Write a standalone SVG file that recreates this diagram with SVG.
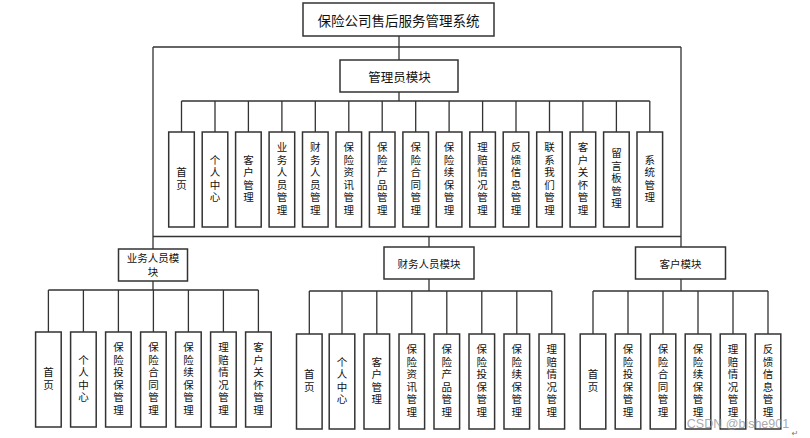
<svg xmlns="http://www.w3.org/2000/svg" width="810" height="438" viewBox="0 0 810 438">
<style>
.box{fill:#fff;stroke:#333;stroke-width:1.5}
.ln{fill:none;stroke:#333;stroke-width:1.3}
.t{font-family:"Noto Sans CJK SC","Noto Sans CJK JP",sans-serif;fill:#111;text-anchor:middle;dominant-baseline:central}
.v{font-family:"Noto Sans CJK SC","Noto Sans CJK JP",sans-serif;fill:#111;text-anchor:middle;font-size:10.5px;writing-mode:vertical-rl;letter-spacing:2px}
.m{font-size:10.5px}
.wm{font-family:"Liberation Sans",Arial,sans-serif;font-size:12.5px;fill:#9a9a9a;fill-opacity:0.85}
</style>
<rect width="810" height="438" fill="#fff"/>
<g id="connectors" class="ln">
<path d="M399 36V47M153 47H681M399 47V60M153 47V249M681 47V247M153 236.5H681M429 236.5V247"/>
<path d="M399 92V101M181.5 101H649.8M181.5 101V132M215 101V132M248.4 101V132M281.9 101V132M315.3 101V132M348.8 101V132M382.2 101V132M415.7 101V132M449.1 101V132M482.6 101V132M516 101V132M549.5 101V132M582.9 101V132M616.4 101V132M649.8 101V132"/>
<path d="M153 281V290M48.4 290H258.4M48.4 290V332M83.4 290V332M118.4 290V332M153.4 290V332M188.4 290V332M223.4 290V332M258.4 290V332"/>
<path d="M429 279V291M309.3 291H551.8M309.3 291V334M342 291V334M376.8 291V334M411.8 291V334M446.8 291V334M481.8 291V334M516.8 291V334M551.8 291V334"/>
<path d="M681 279V291M593 291H768M593 291V334M628 291V334M663 291V334M698 291V334M733 291V334M768 291V334"/>
</g>
<g id="root"><rect class="box" x="303" y="3" width="191" height="33"/><text class="t" x="398.5" y="20" font-size="13.5">保险公司售后服务管理系统</text></g>
<g id="admin"><rect class="box" x="340" y="60" width="118" height="32"/><text class="t" x="399.5" y="76" font-size="12.5">管理员模块</text></g>
<g id="a0"><rect class="box" x="168.7" y="132" width="25.6" height="95"/><text class="v" x="181.5" y="179.5">首页</text></g>
<g id="a1"><rect class="box" x="202.2" y="132" width="25.6" height="95"/><text class="v" x="215" y="179.5">个人中心</text></g>
<g id="a2"><rect class="box" x="235.6" y="132" width="25.6" height="95"/><text class="v" x="248.4" y="179.5">客户管理</text></g>
<g id="a3"><rect class="box" x="269.1" y="132" width="25.6" height="95"/><text class="v" x="281.9" y="179.5">业务人员管理</text></g>
<g id="a4"><rect class="box" x="302.5" y="132" width="25.6" height="95"/><text class="v" x="315.3" y="179.5">财务人员管理</text></g>
<g id="a5"><rect class="box" x="336" y="132" width="25.6" height="95"/><text class="v" x="348.8" y="179.5">保险资讯管理</text></g>
<g id="a6"><rect class="box" x="369.4" y="132" width="25.6" height="95"/><text class="v" x="382.2" y="179.5">保险产品管理</text></g>
<g id="a7"><rect class="box" x="402.9" y="132" width="25.6" height="95"/><text class="v" x="415.7" y="179.5">保险合同管理</text></g>
<g id="a8"><rect class="box" x="436.3" y="132" width="25.6" height="95"/><text class="v" x="449.1" y="179.5">保险续保管理</text></g>
<g id="a9"><rect class="box" x="469.8" y="132" width="25.6" height="95"/><text class="v" x="482.6" y="179.5">理赔情况管理</text></g>
<g id="a10"><rect class="box" x="503.2" y="132" width="25.6" height="95"/><text class="v" x="516" y="179.5">反馈信息管理</text></g>
<g id="a11"><rect class="box" x="536.7" y="132" width="25.6" height="95"/><text class="v" x="549.5" y="179.5">联系我们管理</text></g>
<g id="a12"><rect class="box" x="570.1" y="132" width="25.6" height="95"/><text class="v" x="582.9" y="179.5">客户关怀管理</text></g>
<g id="a13"><rect class="box" x="603.6" y="132" width="25.6" height="95"/><text class="v" x="616.4" y="179.5">留言板管理</text></g>
<g id="a14"><rect class="box" x="637" y="132" width="25.6" height="95"/><text class="v" x="649.8" y="179.5">系统管理</text></g>
<g id="biz"><rect class="box" x="118.5" y="249" width="69" height="32"/><text class="t m" x="153" y="257.5">业务人员模</text><text class="t m" x="153" y="271.5">块</text></g>
<g id="fin"><rect class="box" x="384" y="247" width="90" height="32"/><text class="t m" x="429" y="263">财务人员模块</text></g>
<g id="cust"><rect class="box" x="635.5" y="247" width="90" height="32"/><text class="t m" x="680.5" y="263">客户模块</text></g>
<g id="b0"><rect class="box" x="35.6" y="332" width="25.6" height="95"/><text class="v" x="48.4" y="379.5">首页</text></g>
<g id="b1"><rect class="box" x="70.6" y="332" width="25.6" height="95"/><text class="v" x="83.4" y="379.5">个人中心</text></g>
<g id="b2"><rect class="box" x="105.6" y="332" width="25.6" height="95"/><text class="v" x="118.4" y="379.5">保险投保管理</text></g>
<g id="b3"><rect class="box" x="140.6" y="332" width="25.6" height="95"/><text class="v" x="153.4" y="379.5">保险合同管理</text></g>
<g id="b4"><rect class="box" x="175.6" y="332" width="25.6" height="95"/><text class="v" x="188.4" y="379.5">保险续保管理</text></g>
<g id="b5"><rect class="box" x="210.6" y="332" width="25.6" height="95"/><text class="v" x="223.4" y="379.5">理赔情况管理</text></g>
<g id="b6"><rect class="box" x="245.6" y="332" width="25.6" height="95"/><text class="v" x="258.4" y="379.5">客户关怀管理</text></g>
<g id="f0"><rect class="box" x="296.5" y="334" width="25.6" height="95"/><text class="v" x="309.3" y="381.5">首页</text></g>
<g id="f1"><rect class="box" x="329.2" y="334" width="25.6" height="95"/><text class="v" x="342" y="381.5">个人中心</text></g>
<g id="f2"><rect class="box" x="364" y="334" width="25.6" height="95"/><text class="v" x="376.8" y="381.5">客户管理</text></g>
<g id="f3"><rect class="box" x="399" y="334" width="25.6" height="95"/><text class="v" x="411.8" y="381.5">保险资讯管理</text></g>
<g id="f4"><rect class="box" x="434" y="334" width="25.6" height="95"/><text class="v" x="446.8" y="381.5">保险产品管理</text></g>
<g id="f5"><rect class="box" x="469" y="334" width="25.6" height="95"/><text class="v" x="481.8" y="381.5">保险投保管理</text></g>
<g id="f6"><rect class="box" x="504" y="334" width="25.6" height="95"/><text class="v" x="516.8" y="381.5">保险续保管理</text></g>
<g id="f7"><rect class="box" x="539" y="334" width="25.6" height="95"/><text class="v" x="551.8" y="381.5">理赔情况管理</text></g>
<g id="c0"><rect class="box" x="580.2" y="334" width="25.6" height="95"/><text class="v" x="593" y="381.5">首页</text></g>
<g id="c1"><rect class="box" x="615.2" y="334" width="25.6" height="95"/><text class="v" x="628" y="381.5">保险投保管理</text></g>
<g id="c2"><rect class="box" x="650.2" y="334" width="25.6" height="95"/><text class="v" x="663" y="381.5">保险合同管理</text></g>
<g id="c3"><rect class="box" x="685.2" y="334" width="25.6" height="95"/><text class="v" x="698" y="381.5">保险续保管理</text></g>
<g id="c4"><rect class="box" x="720.2" y="334" width="25.6" height="95"/><text class="v" x="733" y="381.5">理赔情况管理</text></g>
<g id="c5"><rect class="box" x="755.2" y="334" width="25.6" height="95"/><text class="v" x="768" y="381.5">反馈信息管理</text></g>
<text class="wm" x="738" y="427.5" text-anchor="middle">CSDN @bishe901</text>
<text x="795" y="436" font-family="DejaVu Sans,sans-serif" font-size="8" fill="#777" text-anchor="middle">↵</text>
</svg>
